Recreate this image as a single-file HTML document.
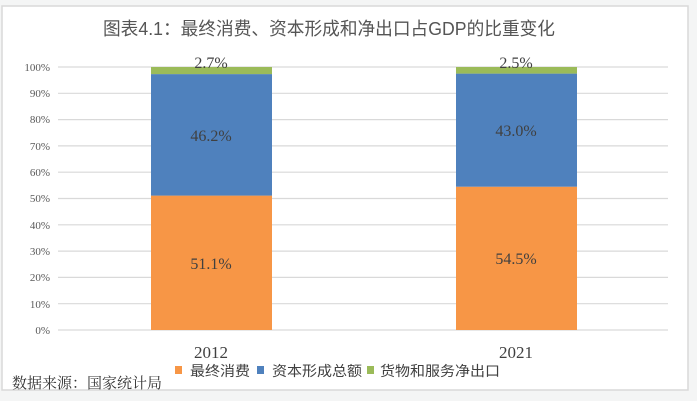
<!DOCTYPE html>
<html><head><meta charset="utf-8"><style>
body{margin:0;width:697px;height:401px;background:#f4f5f5;overflow:hidden;font-family:"Liberation Serif","Noto Serif CJK SC",serif;}
</style></head><body>
<svg width="697" height="401" style="position:absolute;left:0;top:0">
<rect x="2" y="6" width="686" height="384" fill="#fff" stroke="#d9d9d9" stroke-width="1.5"/>
<text x="103" y="35" textLength="452" lengthAdjust="spacingAndGlyphs" font-family="'Liberation Sans','Noto Sans CJK SC',sans-serif" font-size="18" fill="#555">图表4.1：最终消费、资本形成和净出口占GDP的比重变化</text>
<g stroke="#d9d9d9" stroke-width="1.2">
<line x1="58" x2="668" y1="67" y2="67"/><line x1="58" x2="668" y1="93.3" y2="93.3"/><line x1="58" x2="668" y1="119.6" y2="119.6"/><line x1="58" x2="668" y1="145.9" y2="145.9"/><line x1="58" x2="668" y1="172.2" y2="172.2"/><line x1="58" x2="668" y1="198.5" y2="198.5"/><line x1="58" x2="668" y1="224.8" y2="224.8"/><line x1="58" x2="668" y1="251.1" y2="251.1"/><line x1="58" x2="668" y1="277.4" y2="277.4"/><line x1="58" x2="668" y1="303.7" y2="303.7"/><line x1="58" x2="668" y1="330" y2="330"/>
</g>
<g font-size="11" fill="#595959" text-anchor="end">
<text x="50" y="71">100%</text><text x="50" y="97">90%</text><text x="50" y="123">80%</text><text x="50" y="150">70%</text><text x="50" y="176">60%</text><text x="50" y="202">50%</text><text x="50" y="229">40%</text><text x="50" y="255">30%</text><text x="50" y="281">20%</text><text x="50" y="308">10%</text><text x="50" y="334">0%</text>
</g>
<rect x="151" y="195.6" width="121" height="134.4" fill="#f79646"/>
<rect x="151" y="74.1" width="121" height="121.5" fill="#4f81bd"/>
<rect x="151" y="67" width="121" height="7.1" fill="#9bbb59"/>
<rect x="456" y="186.7" width="121" height="143.3" fill="#f79646"/>
<rect x="456" y="73.6" width="121" height="113.1" fill="#4f81bd"/>
<rect x="456" y="67" width="121" height="6.6" fill="#9bbb59"/>
<g font-size="16" fill="#404040" text-anchor="middle">
<text x="211" y="68">2.7%</text><text x="516" y="68">2.5%</text>
<text x="211" y="141">46.2%</text><text x="516" y="136">43.0%</text>
<text x="211" y="269">51.1%</text><text x="516" y="264">54.5%</text>
<text x="211" y="358" font-size="17">2012</text><text x="516" y="358" font-size="17">2021</text>
</g>
<g font-family="'Liberation Sans','Noto Sans CJK SC',sans-serif" font-size="14" fill="#404040">
<rect x="175" y="366" width="7" height="8" fill="#f79646"/><text x="190" y="376" textLength="60" lengthAdjust="spacingAndGlyphs">最终消费</text>
<rect x="257" y="366" width="7" height="8" fill="#4f81bd"/><text x="272" y="376" textLength="90" lengthAdjust="spacingAndGlyphs">资本形成总额</text>
<rect x="367" y="366" width="7" height="8" fill="#9bbb59"/><text x="380" y="376" textLength="120" lengthAdjust="spacingAndGlyphs">货物和服务净出口</text>
</g>
<text x="12" y="388" font-size="15" textLength="150" lengthAdjust="spacingAndGlyphs" fill="#333" font-family="'Noto Serif CJK SC',serif">数据来源：国家统计局</text>
</svg>
</body></html>
